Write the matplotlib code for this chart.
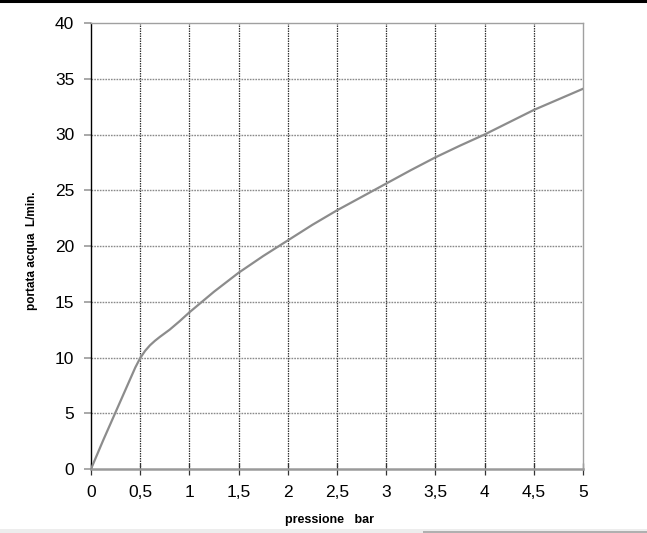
"""Portata acqua vs pressione curve."""

import matplotlib

matplotlib.use("Agg")

import matplotlib.pyplot as plt
from matplotlib.lines import Line2D
from matplotlib.patches import Rectangle

# values
pressure_bar = [0.0, 0.125, 0.25, 0.375, 0.45, 0.5, 0.55, 0.6, 0.65, 0.7, 0.8,
                0.9, 1.0, 1.25, 1.5, 1.75, 2.0, 2.25, 2.5, 2.75, 3.0, 3.25,
                3.5, 3.75, 4.0, 4.25, 4.5, 4.75, 5.0]
flow_lmin = [0.0, 2.6, 5.1, 7.6, 9.1, 9.95, 10.6, 11.1, 11.5, 11.85, 12.5,
             13.25, 14.05, 15.9, 17.6, 19.1, 20.5, 21.9, 23.2, 24.4, 25.6,
             26.8, 27.95, 29.0, 30.0, 31.1, 32.2, 33.15, 34.1]

x_ticks = [0, 0.5, 1, 1.5, 2, 2.5, 3, 3.5, 4, 4.5, 5]
x_tick_labels = ["0", "0,5", "1", "1,5", "2", "2,5", "3", "3,5", "4", "4,5", "5"]
y_ticks = [0, 5, 10, 15, 20, 25, 30, 35, 40]

plt.rcParams["font.family"] = ["Liberation Sans", "DejaVu Sans"]

fig = plt.figure(figsize=(6.47, 5.33), dpi=100)
ax = fig.add_axes([91 / 647, 1 - 469 / 533, 492 / 647, 446 / 533])

ax.plot(pressure_bar, flow_lmin, color="#8c8c8c", linewidth=1.6, zorder=3,
        solid_capstyle="round", solid_joinstyle="round")

ax.set_xlim(0, 5)
ax.set_ylim(0, 40)
ax.set_xticks(x_ticks)
ax.set_xticklabels(x_tick_labels)
ax.set_yticks(y_ticks)

for x in x_ticks[1:-1]:
    ax.axvline(x, color="#333333", linestyle=(0, (1.2, 0.8)), linewidth=0.9, zorder=1)
for y in y_ticks[1:-1]:
    ax.axhline(y, color="#8a8a8a", linestyle=(0, (1.2, 0.8)), linewidth=1.0, zorder=1)

ax.spines["left"].set_color("black")
ax.spines["left"].set_linewidth(1.0)
for side in ("top", "right"):
    ax.spines[side].set_color("#a0a0a0")
    ax.spines[side].set_linewidth(1.0)
ax.spines["bottom"].set_color("#9a9a9a")
ax.spines["bottom"].set_linewidth(1.8)

ax.tick_params(axis="y", length=5, width=1.2, color="#9a9a9a", labelsize=12.5,
               pad=7)
ax.tick_params(axis="x", length=9, width=0.9, color="#333333", labelsize=12.5,
               pad=7, direction="inout")

ax.set_xlabel("pressione   bar", fontsize=9, fontweight="bold")
ax.xaxis.set_label_coords(0.485, -0.1)
ax.set_ylabel("portata acqua  L/min.", fontsize=8.5, fontweight="bold")
ax.yaxis.set_label_coords(-0.108, 0.49)

# page frame bits around the chart
fig.add_artist(Line2D([0, 1], [1 - 1 / 533, 1 - 1 / 533], color="black",
                      linewidth=2.2, transform=fig.transFigure))
fig.add_artist(Rectangle((0, 0), 1, 4 / 533, transform=fig.transFigure,
                         facecolor="#ededed", edgecolor="none"))
fig.add_artist(Rectangle((423 / 647, 0), 224 / 647, 2 / 533,
                         transform=fig.transFigure, facecolor="#b0b0b0",
                         edgecolor="none"))

fig.savefig("out.png", dpi=100)
plt.close(fig)
